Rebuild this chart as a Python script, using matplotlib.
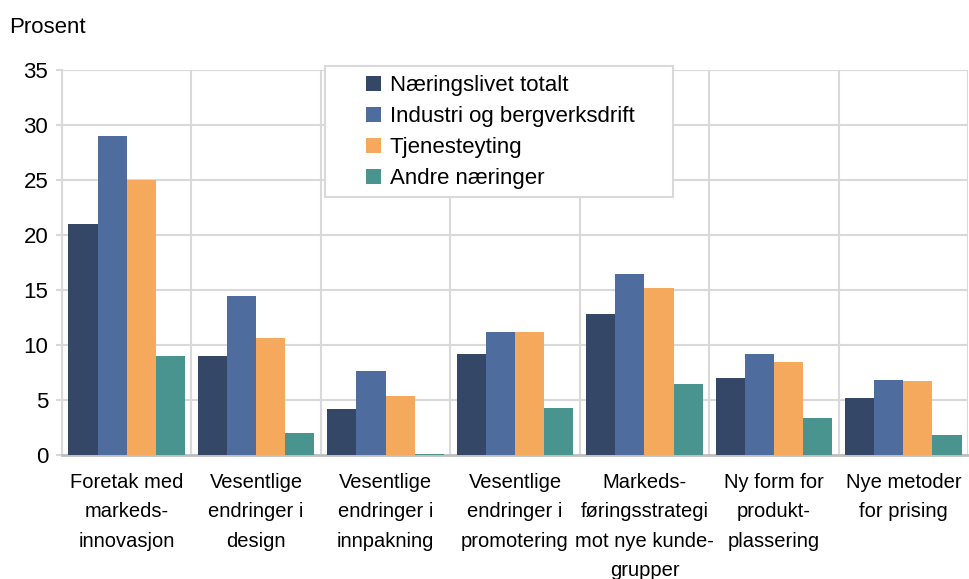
import numpy as np
import matplotlib.pyplot as plt
from matplotlib.patches import Rectangle

plt.rcParams['font.family'] = ['Liberation Sans', 'DejaVu Sans']

categories = [
    "Foretak med\nmarkeds-\ninnovasjon",
    "Vesentlige\nendringer i\ndesign",
    "Vesentlige\nendringer i\ninnpakning",
    "Vesentlige\nendringer i\npromotering",
    "Markeds-\nføringsstrategi\nmot nye kunde-\ngrupper",
    "Ny form for\nprodukt-\nplassering",
    "Nye metoder\nfor prising",
]
series_names = ["Næringslivet totalt", "Industri og bergverksdrift",
                "Tjenesteyting", "Andre næringer"]
totalt = [21.0, 9.0, 4.2, 9.2, 12.8, 7.0, 5.2]
industri = [29.0, 14.5, 7.6, 11.2, 16.5, 9.2, 6.8]
tjeneste = [25.0, 10.6, 5.4, 11.2, 15.2, 8.5, 6.7]
andre = [9.0, 2.0, 0.1, 4.3, 6.5, 3.4, 1.8]
colors = ["#344766", "#4F6C9E", "#F5A95C", "#4A9490"]

fig = plt.figure(figsize=(9.69, 5.79), dpi=100)
ax = fig.add_axes([0.064, 0.214, 0.935, 0.665])

x = np.arange(len(categories))
w = 0.225
for i, (vals, name) in enumerate(zip([totalt, industri, tjeneste, andre], series_names)):
    ax.bar(x + (i - 1.5) * w, vals, width=w, color=colors[i], label=name, zorder=3)

ax.set_xlim(-0.5, len(categories) - 0.5)
ax.set_ylim(0, 35)
ax.set_yticks(range(0, 36, 5))
ax.grid(axis='y', color='#D9D9D9', linewidth=1.5, zorder=0)
for b in np.arange(-0.5, len(categories), 1.0):
    ax.axvline(b, color='#D9D9D9', linewidth=1.5, zorder=0)

for s in ['top', 'right']:
    ax.spines[s].set_visible(False)
ax.spines['left'].set_color('#D9D9D9')
ax.spines['left'].set_linewidth(1.5)
ax.spines['bottom'].set_color('#BFBFBF')
ax.spines['bottom'].set_linewidth(2)

ax.tick_params(axis='y', length=4, color='#D9D9D9', width=1.5, labelsize=16, pad=6)
ax.tick_params(axis='x', length=0, pad=13)
ax.set_xticks(x)
ax.set_xticklabels(categories, linespacing=1.68, fontsize=14.5)

fig.text(0.009, 0.953, "Prosent", fontsize=16, ha='left', va='center')

# legend box
box = Rectangle((0.29, 0.67), 0.384, 0.34, transform=ax.transAxes,
                facecolor='white', edgecolor='#D9D9D9', linewidth=1.5,
                zorder=4, clip_on=False)
ax.add_patch(box)
leg = ax.legend(loc='upper left', bbox_to_anchor=(0.326, 1.01), frameon=False,
                fontsize=16, handlelength=0.65, handleheight=0.65,
                handletextpad=0.4, labelspacing=0.45, borderaxespad=0)
leg.set_zorder(5)

fig.savefig("out.png", dpi=100)
